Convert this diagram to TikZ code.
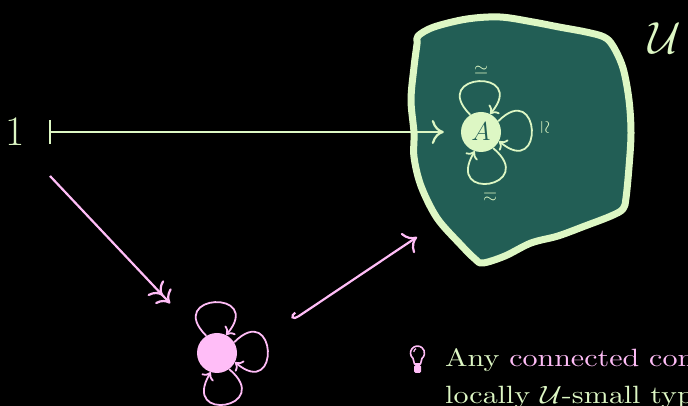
\RequirePackage{fix-cm}
\documentclass[tikz,border=0pt]{standalone}
\usepackage{graphicx}
\usetikzlibrary{arrows.meta}
\definecolor{lg}{HTML}{DDF7C4}
\definecolor{pk}{HTML}{FFBDF7}
\definecolor{tl}{HTML}{225E55}
\font\bigrm=cmr10 at 25pt
\tikzset{
  conn/.style={line width=2.2pt},
  looparr/.style={line width=1.8pt,-{Computer Modern Rightarrow[length=7pt,width=14pt]}},
  bighead/.tip={Computer Modern Rightarrow[length=12pt,width=24pt]},
  dothead/.style={circle,minimum size=40pt,inner sep=0pt},
  isolabel/.style={text=lg,font=\fontsize{18}{18}\selectfont,inner sep=0pt},
}
\begin{document}
\begin{tikzpicture}[x=1pt,y=1pt]
\fill[black] (0,0) rectangle (688,406);
\useasboundingbox (0,0) rectangle (688,406);

% universe blob
\draw[lg, fill=tl, line width=7pt, line join=round]
  plot[smooth cycle, tension=0.55] coordinates {
  (418,370) (434,379) (467,387) (500,389) (533,384) (559,379) (586,374) (604,369)
  (613,360) (623,338) (629,306) (631,273) (629,239) (626,208) (623,197) (611,190)
  (585,180) (558,170) (531,163) (505,150) (483,143) (475,147) (460,162) (437,188)
  (421,220) (414,249) (414,273) (411,306) (414,339) (417,362)};

\node[text=lg, font=\fontsize{45}{45}\selectfont] (U) at (665,368) {$\mathcal{U}$};

% 1 |-> A
\node[text=lg, font=\fontsize{42}{42}\selectfont, anchor=base, inner sep=0pt] (one) at (15,260) {1};
\coordinate (s1) at (49,274);
\node[dothead, fill=lg, text=tl] (A) at (481,274) {\fontsize{26}{26}\selectfont$A$};
\draw[conn, lg, {Bar[width=24pt]}-bighead, shorten >=17pt] (s1) -- (A);

\draw[looparr, lg] (A.122) .. controls +(135:60) and +(50:60) .. (A.63);
\draw[looparr, lg] (A.32) .. controls +(45:60) and +(-40:60) .. (A.-27);
\draw[looparr, lg] (A.-53) .. controls +(-40:60) and +(-121:60) .. (A.-108);
\node[isolabel] (l1) at (481,336) {$\simeq$};
\node[isolabel, rotate=-90] (l2) at (545,278) {$\simeq$};
\node[isolabel, rotate=180] (l3) at (490,209) {$\simeq$};

% pink point
\node[dothead, fill=pk] (P) at (217,53) {};
\draw[looparr, pk] (P.122) .. controls +(135:60) and +(50:60) .. (P.63);
\draw[looparr, pk] (P.32) .. controls +(45:60) and +(-40:60) .. (P.-27);
\draw[looparr, pk] (P.-53) .. controls +(-40:60) and +(-121:60) .. (P.-108);

\coordinate (s2) at (50,230);
\draw[conn, pk, -{Computer Modern Rightarrow[length=11pt,width=22pt] Computer Modern Rightarrow[length=11pt,width=22pt]}, shorten >=48pt] (s2) -- (P);

\coordinate (h1) at (293,86);
\coordinate (h2) at (417,169);
\draw[conn, pk, {Hooks[right,length=6pt,width=12pt]}-bighead] (h1) -- (h2);

% light bulb
\draw[pk, line width=1.6pt, line join=round] (414.5,42) -- (413,47.6) arc[start angle=230, end angle=-50, radius=7] -- (420.5,42) -- cycle;
\draw[pk, line width=1.2pt] (413.8,54) arc[start angle=180, end angle=110, radius=3.5];
\fill[pk, rounded corners=1.5pt] (414,33) rectangle (421,41);

% text
\node[anchor=base west, inner sep=0pt, font=\fontsize{25}{30}\selectfont\bigrm] (t1) at (445,39)
  {\scalebox{1.2}[1]{\textcolor{lg}{Any} \textcolor{pk}{connected component}}};
\node[anchor=base west, inner sep=0pt, font=\fontsize{25}{30}\selectfont\bigrm, text=lg] (t2) at (445,2.5)
  {\scalebox{1.2}[1]{locally $\mathcal{U}$-small types}};
\end{tikzpicture}
\end{document}
